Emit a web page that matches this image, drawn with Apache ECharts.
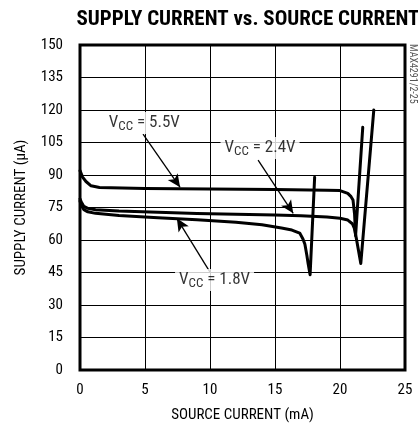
<!DOCTYPE html>
<html>
<head>
<meta charset="utf-8">
<script src="https://cdn.jsdelivr.net/npm/echarts@6/dist/echarts.min.js"></script>
<style>
  html, body { margin: 0; padding: 0; background: #fff; }
  #chart { width: 418px; height: 429px; }
</style>
</head>
<body>
<div id="chart"></div>
<script>
// source current (mA) / supply current (uA)
const vcc55X = [0, 0.2, 0.46, 0.85, 1.5, 5, 10, 15, 19, 20, 20.6, 20.85, 21.0, 21.12, 21.2, 21.75]
const vcc55Y = [92, 89, 87, 85, 84.2, 83.8, 83.5, 83.3, 83, 82.8, 81.5, 80, 78.5, 72, 62, 112]

const vcc24X = [0, 0.1, 0.3, 0.6, 1.2, 3, 6, 9, 12, 15, 17, 19, 20, 20.6, 20.95, 21.1, 21.25, 21.6, 22.6]
const vcc24Y = [79, 77.5, 75.5, 74.6, 74, 73.4, 72.8, 72.2, 71.9, 71.5, 71.2, 70.6, 70, 69.2, 67.5, 65.5, 61, 49.2, 120]

const vcc18X = [0, 0.1, 0.3, 0.6, 1.2, 3, 6, 9, 12, 14, 15.5, 16.3, 16.9, 17.15, 17.3, 17.45, 17.55, 17.7, 18.05]
const vcc18Y = [78, 76, 74, 73, 72.3, 71.3, 70.3, 69.4, 68.2, 67, 65.5, 64.6, 63.2, 60.5, 58, 53, 49, 44, 89]

// annotation labels and arrows (arrow: from -> to, in data units)
const noteNames = ['5.5V', '2.4V', '1.8V']
const noteX = [4.95, 13.85, 10.35]
const noteY = [114, 102.5, 41.5]
const arrowFrom = [[4.85, 108.9], [13.7, 96.9], [10.0, 45.2]]
const arrowTo = [[7.7, 84.3], [16.4, 72.3], [7.45, 70.0]]

const xTicks = [0, 5, 10, 15, 20, 25]
const yTicks = [0, 15, 30, 45, 60, 75, 90, 105, 120, 135, 150]

const pairs = (xs, ys) => xs.map((x, i) => [x, ys[i]])

const font = '"Roboto Condensed", "Liberation Sans", sans-serif'

const myChart = echarts.init(document.getElementById('chart'))

const curveStyle = {
  type: 'line',
  showSymbol: false,
  symbol: 'none',
  smooth: false,
  silent: true,
  lineStyle: { color: '#000', width: 3, join: 'round', cap: 'round' },
  z: 3
}

const option = {
  animation: false,
  backgroundColor: '#fff',
  title: {
    text: 'SUPPLY CURRENT vs. SOURCE CURRENT',
    left: 243,
    textAlign: 'center',
    top: 4,
    textStyle: {
      fontFamily: font,
      fontWeight: 'bold',
      fontSize: 21,
      color: '#000'
    }
  },
  grid: {
    left: 80,
    right: 13,
    top: 45,
    bottom: 59,
    show: true,
    borderColor: '#000',
    borderWidth: 3
  },
  xAxis: {
    type: 'value',
    min: xTicks[0],
    max: xTicks[xTicks.length - 1],
    interval: 5,
    name: 'SOURCE CURRENT (mA)',
    nameLocation: 'middle',
    nameGap: 38,
    nameTextStyle: { fontFamily: font, fontSize: 15, color: '#000' },
    axisLine: { show: false },
    axisTick: { show: false },
    axisLabel: { fontFamily: font, fontSize: 15, color: '#000', margin: 13 },
    splitLine: { show: true, lineStyle: { color: '#000', width: 1 } }
  },
  yAxis: {
    type: 'value',
    min: yTicks[0],
    max: yTicks[yTicks.length - 1],
    interval: 15,
    name: 'SUPPLY CURRENT (µA)',
    nameLocation: 'middle',
    nameGap: 51,
    nameTextStyle: { fontFamily: font, fontSize: 15, color: '#000' },
    axisLine: { show: false },
    axisTick: { show: false },
    axisLabel: { fontFamily: font, fontSize: 15, color: '#000', margin: 17 },
    splitLine: { show: true, lineStyle: { color: '#000', width: 1 } }
  },
  graphic: [{
    type: 'text',
    left: 407,
    top: 44,
    rotation: -Math.PI / 2,
    style: {
      text: 'MAX4291/2-25',
      fontFamily: font,
      fontSize: 10,
      fill: '#555'
    }
  }],
  series: [
    Object.assign({ name: 'VCC = 5.5V', data: pairs(vcc55X, vcc55Y) }, curveStyle),
    Object.assign({ name: 'VCC = 2.4V', data: pairs(vcc24X, vcc24Y) }, curveStyle),
    Object.assign({ name: 'VCC = 1.8V', data: pairs(vcc18X, vcc18Y) }, curveStyle),
    {
      // arrows
      type: 'line',
      data: [],
      silent: true,
      markLine: {
        silent: true,
        symbol: ['none', 'arrow'],
        symbolSize: [9, 13],
        label: { show: false },
        lineStyle: { color: '#000', width: 1.3, type: 'solid' },
        data: arrowFrom.map((p, i) => [{ coord: p }, { coord: arrowTo[i] }])
      },
      z: 4
    },
    {
      // labels, white box hides the grid behind them
      type: 'scatter',
      symbolSize: 0,
      silent: true,
      data: noteX.map((x, i) => ({ value: [x, noteY[i]], name: noteNames[i] })),
      label: {
        show: true,
        position: 'inside',
        backgroundColor: '#fff',
        padding: [1, 4, 1, 4],
        formatter: p => '{v|V}{s|CC}{v| = ' + p.name + '}',
        rich: {
          v: { fontFamily: font, fontSize: 17, color: '#000', lineHeight: 20 },
          s: { fontFamily: font, fontSize: 13, color: '#000', lineHeight: 20, verticalAlign: 'bottom', padding: [6, 0, 0, 0] }
        }
      },
      z: 5
    }
  ]
}

myChart.setOption(option)
</script>
</body>
</html>
